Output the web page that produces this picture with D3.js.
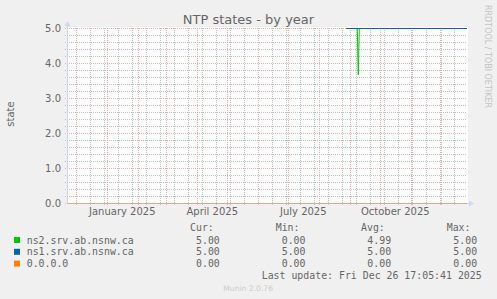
<!DOCTYPE html>
<html>
<head>
<meta charset="utf-8">
<script src="https://cdn.jsdelivr.net/npm/d3@7"></script>
<style>
  html, body { margin: 0; padding: 0; background: #F0F0F0; }
  svg text { font-family: "DejaVu Sans", sans-serif; fill: #666666; }
  .mono { font-family: "DejaVu Sans Mono", monospace; font-size: 9.9px; }
</style>
</head>
<body>
<div id="chart"></div>
<script>
/* NTP states - by year (munin) */

// time window of the graph (400 days ending at last update)
var timeStart = new Date(Date.UTC(2024, 10, 21, 17, 5, 41));
var timeEnd = new Date(Date.UTC(2025, 11, 26, 17, 5, 41));

// series
var ns2Dates = ['2025-08-28', '2025-09-08', '2025-09-09', '2025-09-10', '2025-12-26'];
var ns2Values = [5, 5, 3.68, 5, 5];
var ns1Dates = ['2025-08-28', '2025-12-26'];
var ns1Values = [5, 5];
var zeroDates = ['2024-11-21', '2025-12-26'];
var zeroValues = [0, 0];

// axis labels
var yTicks = [0, 1, 2, 3, 4, 5];
var xLabelMonths = ['2025-01-01', '2025-04-01', '2025-07-01', '2025-10-01'];

// legend
var legendNames = ['ns2.srv.ab.nsnw.ca', 'ns1.srv.ab.nsnw.ca', '0.0.0.0'];
var legendColors = ['#00CC00', '#0066B3', '#FF8000'];
var legendCur = ['5.00', '5.00', '0.00'];
var legendMin = ['0.00', '5.00', '0.00'];
var legendAvg = ['4.99', '5.00', '0.00'];
var legendMax = ['5.00', '5.00', '0.00'];

var width = 497, height = 299;
var margin = {left: 67, right: 30, top: 28, bottom: 96};

var svg = d3.select('#chart').append('svg')
	.attr('width', width)
	.attr('height', height);

var parse = d3.utcParse('%Y-%m-%d');

var x = d3.scaleUtc()
	.domain([timeStart, timeEnd])
	.range([margin.left, width - margin.right]);

var y = d3.scaleLinear()
	.domain([0, 5])
	.range([height - margin.bottom, margin.top]);

var px = v => Math.round(v) + 0.5;

// canvas
svg.append('rect')
	.attr('x', margin.left)
	.attr('y', margin.top - 1)
	.attr('width', width - margin.right - margin.left + 1)
	.attr('height', y(0) - margin.top + 1)
	.style('fill', '#FFFFFF');

var grid = svg.append('g').style('stroke-dasharray', '1,1').style('shape-rendering', 'crispEdges');
var minorColor = '#C2C2C2', majorColor = '#EDB0B0';

// minor grid: every 0.2 and every second sunday
var yMinor = d3.range(0, 25).filter(i => i % 5 !== 0).map(i => i / 5);
grid.selectAll('.yminor').data(yMinor).enter().append('line')
	.attr('x1', margin.left - 2).attr('x2', width - margin.right)
	.attr('y1', d => px(y(d))).attr('y2', d => px(y(d)))
	.style('stroke', minorColor);

var weeks = d3.utcSunday.range(new Date(Date.UTC(2024, 11, 1)), timeEnd, 2);
grid.selectAll('.xminor').data(weeks).enter().append('line')
	.attr('x1', d => px(x(d))).attr('x2', d => px(x(d)))
	.attr('y1', margin.top).attr('y2', y(0) + 2)
	.style('stroke', minorColor);

// major grid: units and months
grid.selectAll('.ymajor').data(yTicks).enter().append('line')
	.attr('x1', margin.left - 2).attr('x2', width - margin.right)
	.attr('y1', d => px(y(d))).attr('y2', d => px(y(d)))
	.style('stroke', majorColor);

var months = d3.utcMonth.range(timeStart, timeEnd);
grid.selectAll('.xmajor').data(months).enter().append('line')
	.attr('x1', d => px(x(d))).attr('x2', d => px(x(d)))
	.attr('y1', margin.top).attr('y2', y(0) + 3)
	.style('stroke', majorColor);

// axes
var axisColor = '#CFD6F8';
svg.append('line')
	.attr('x1', px(margin.left)).attr('x2', px(margin.left))
	.attr('y1', y(0)).attr('y2', margin.top - 4)
	.style('stroke', axisColor);
svg.append('path')
	.attr('d', `M${margin.left - 2.5},${margin.top - 2} L${margin.left + 3.5},${margin.top - 2} L${margin.left + 0.5},${margin.top - 7} Z`)
	.style('fill', axisColor);
svg.append('line')
	.attr('x1', margin.left).attr('x2', width - margin.right + 4)
	.attr('y1', px(y(0))).attr('y2', px(y(0)))
	.style('stroke', axisColor);
svg.append('path')
	.attr('d', `M${width - margin.right + 2},${y(0) - 2.5} L${width - margin.right + 2},${y(0) + 3.5} L${width - margin.right + 7},${y(0) + 0.5} Z`)
	.style('fill', axisColor);

// series lines, shifted half a pixel so flat runs stay crisp
var line = d3.line()
	.x(d => x(d[0]))
	.y(d => y(d[1]) + 0.5);

function drawSeries(dates, values, color, opacity){
	var pts = dates.map((d, i) => [parse(d), values[i]]);
	pts[pts.length - 1][0] = timeEnd;
	if (pts[0][0] < timeStart) pts[0][0] = timeStart;
	svg.append('path')
		.datum(pts)
		.attr('d', line)
		.style('fill', 'none')
		.style('stroke', color)
		.style('stroke-opacity', opacity)
		.style('stroke-width', 1);
}
drawSeries(zeroDates, zeroValues, legendColors[2], 0.5);
drawSeries(ns2Dates, ns2Values, legendColors[0], 1);
drawSeries(ns1Dates, ns1Values, legendColors[1], 1);

// y labels
svg.selectAll('.ylab').data(yTicks).enter().append('text')
	.attr('x', margin.left - 6)
	.attr('y', d => y(d) + 3.7)
	.style('text-anchor', 'end')
	.style('font-size', '10px')
	.text(d => d3.format('.1f')(d));

// x labels, centred half a month after the tick like rrdtool
svg.selectAll('.xlab').data(xLabelMonths).enter().append('text')
	.attr('x', d => x(d3.utcDay.offset(parse(d), 15)))
	.attr('y', 214.5)
	.style('text-anchor', 'middle')
	.style('font-size', '10px')
	.text(d => d3.utcFormat('%B %Y')(parse(d)));

// title
svg.append('text')
	.attr('x', 248.5).attr('y', 24)
	.style('text-anchor', 'middle')
	.style('font-size', '13px')
	.text('NTP states - by year');

// vertical label
svg.append('text')
	.attr('transform', 'translate(14,114) rotate(-90)')
	.style('text-anchor', 'middle')
	.style('font-size', '10px')
	.text('state');

// watermark
svg.append('text')
	.attr('transform', 'translate(485,5) rotate(90)')
	.style('font-size', '8px')
	.style('fill', '#C4C4C4')
	.text('RRDTOOL / TOBI OETIKER');

// legend
var legend = svg.append('g').attr('class', 'mono');
var headers = [['Cur:', 190], ['Min:', 275.7], ['Avg:', 361], ['Max:', 446.7]];
legend.selectAll('.hdr').data(headers).enter().append('text')
	.attr('class', 'mono')
	.attr('x', d => d[1]).attr('y', 231)
	.text(d => d[0]);

var rowY = [243.5, 255.3, 267.1];
var rows = legend.selectAll('.row').data(legendNames).enter().append('g');
rows.append('rect')
	.attr('x', 14).attr('y', (d, i) => rowY[i] - 6.5)
	.attr('width', 6).attr('height', 6)
	.style('fill', (d, i) => legendColors[i]);
rows.append('text').attr('class', 'mono')
	.attr('x', 26.7).attr('y', (d, i) => rowY[i])
	.text(d => d);
var cols = [[legendCur, 196], [legendMin, 281.7], [legendAvg, 367.3], [legendMax, 453.3]];
cols.forEach(c => {
	rows.append('text').attr('class', 'mono')
		.attr('x', c[1]).attr('y', (d, i) => rowY[i])
		.text((d, i) => c[0][i]);
});

svg.append('text').attr('class', 'mono')
	.attr('x', 261.7).attr('y', 278.8)
	.text('Last update: Fri Dec 26 17:05:41 2025');

svg.append('text')
	.attr('x', 223.3).attr('y', 291)
	.style('font-size', '7.6px')
	.style('fill', '#CCCCCC')
	.text('Munin 2.0.76');
</script>
</body>
</html>
